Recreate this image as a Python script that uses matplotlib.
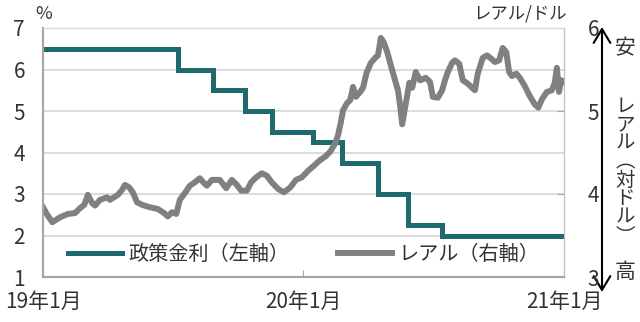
import pandas as pd
import matplotlib
matplotlib.use("Agg")
import matplotlib.pyplot as plt

plt.rcParams['font.family'] = ['Noto Sans CJK JP', 'DejaVu Sans']

start = pd.Timestamp('2019-01-01')

# 政策金利: 変更日 (2019-01-01 からの日数) と水準 (%)
rate_day = [0, 189, 238, 283, 321, 379, 420, 470, 512, 560, 731]
rate_val = [6.5, 6.0, 5.5, 5.0, 4.5, 4.25, 3.75, 3.0, 2.25, 2.0, 2.0]

# レアル/ドル (2019-01-01 からの日数, 値) 画像から読み取り
brl_day = [0, 6, 13, 24, 35, 45, 52, 58, 63, 69, 73, 80, 90, 94, 105, 111, 115,
           121, 126, 132, 139, 150, 161, 170, 175, 181, 187, 192, 199, 206, 213,
           220, 226, 230, 237, 248, 257, 265, 272, 278, 286, 292, 299, 307, 314,
           321, 330, 338, 347, 355, 363, 372, 380, 389, 396, 403, 410, 414, 418,
           421, 427, 431, 435, 439, 445, 449, 454, 460, 466, 470, 474, 478, 483,
           488, 494, 498, 501, 504, 507, 511, 514, 518, 523, 529, 537, 543, 547,
           554, 560, 564, 568, 574, 578, 584, 589, 596, 602, 606, 610, 617, 623,
           629, 634, 640, 645, 650, 654, 658, 664, 669, 676, 683, 690, 695, 700,
           707, 714, 718, 721, 724, 727, 731]
brl_val = [3.84, 3.75, 3.66, 3.72, 3.76, 3.77, 3.83, 3.87, 3.99, 3.89, 3.86,
           3.93, 3.96, 3.93, 3.99, 4.05, 4.11, 4.08, 4.02, 3.90, 3.87, 3.84,
           3.82, 3.77, 3.73, 3.78, 3.76, 3.93, 4.01, 4.10, 4.14, 4.19, 4.13,
           4.10, 4.17, 4.17, 4.07, 4.17, 4.11, 4.04, 4.04, 4.14, 4.20, 4.25,
           4.22, 4.14, 4.06, 4.02, 4.08, 4.17, 4.20, 4.28, 4.34, 4.41, 4.45,
           4.51, 4.61, 4.71, 4.87, 5.01, 5.10, 5.13, 5.29, 5.17, 5.23, 5.28,
           5.46, 5.58, 5.64, 5.67, 5.88, 5.83, 5.71, 5.55, 5.37, 5.25, 5.07,
           4.84, 4.99, 5.19, 5.34, 5.28, 5.47, 5.37, 5.40, 5.35, 5.17, 5.16,
           5.25, 5.37, 5.47, 5.58, 5.61, 5.57, 5.37, 5.33, 5.28, 5.25, 5.45,
           5.64, 5.67, 5.63, 5.59, 5.61, 5.76, 5.71, 5.47, 5.42, 5.45, 5.40,
           5.30, 5.18, 5.08, 5.04, 5.14, 5.23, 5.25, 5.34, 5.52, 5.23, 5.37,
           5.35]

x_ticks = ['2019-01-01', '2020-01-01', '2021-01-01']
x_labels = ['19年1月', '20年1月', '21年1月']

rate_dates = start + pd.to_timedelta(rate_day, unit='D')
brl_dates = start + pd.to_timedelta(brl_day, unit='D')

teal = '#1e6a6e'
gray = '#808080'
txt = '#333333'

fig = plt.figure(figsize=(6.4, 3.22), dpi=100)
ax = fig.add_axes([43 / 640, 45 / 322, 521 / 640, 249 / 322])
ax2 = ax.twinx()

l1, = ax.plot(rate_dates, rate_val, drawstyle='steps-post', color=teal, lw=3.6,
              solid_joinstyle='miter')
l2, = ax2.plot(brl_dates, brl_val, color=gray, lw=4.3, solid_joinstyle='round')

ax.set_xlim(pd.Timestamp(x_ticks[0]), pd.Timestamp(x_ticks[-1]))
ax.set_ylim(1, 7)
ax2.set_ylim(3, 6)
ax.set_yticks(range(1, 8))
ax2.set_yticks(range(3, 7))
ax.set_xticks(pd.to_datetime(x_ticks))
ax.set_xticklabels(x_labels)

ax.yaxis.grid(True, color='#d9d9d9', lw=1.3)
ax.set_axisbelow(True)

ax.tick_params(axis='y', length=0, pad=13, labelsize=15, labelcolor=txt)
ax.tick_params(axis='x', direction='in', length=5, color='#a6a6a6', pad=10,
               labelsize=15, labelcolor=txt)
ax2.tick_params(axis='y', direction='in', length=5, color='#a6a6a6', pad=17,
                labelsize=15, labelcolor=txt)

for a in (ax, ax2):
    a.spines['left'].set_color('#a6a6a6')
    a.spines['bottom'].set_color('#a6a6a6')
    a.spines['top'].set_color('#d9d9d9')
    a.spines['right'].set_color('#bfbfbf')
    a.spines['left'].set_linewidth(1.5)
    a.spines['bottom'].set_linewidth(1.5)

ax2.legend([l1, l2], ['政策金利（左軸）', 'レアル（右軸）'], loc='center',
           bbox_to_anchor=(0.5, 0.092), ncol=2, frameon=False, fontsize=14.5,
           handlelength=2.7, handletextpad=0.3, columnspacing=2.4,
           labelcolor=txt)

# 単位
fig.text(44 / 640, 1 - 14 / 322, '%', ha='center', va='center', fontsize=13, color=txt)
fig.text(567 / 640, 1 - 13 / 322, 'レアル/ドル', ha='right', va='center',
         fontsize=12.5, color=txt)

# 右側の矢印と注記
ax.annotate('', xy=(602, 322 - 27), xytext=(602, 322 - 292), xycoords='figure pixels',
            textcoords='figure pixels', annotation_clip=False,
            arrowprops=dict(arrowstyle='<->,head_length=0.5,head_width=0.3',
                            lw=1.5, color='black', shrinkA=0, shrinkB=0,
                            mutation_scale=20))
fig.text(625 / 640, 1 - 48 / 322, '安', ha='center', va='center', fontsize=15, color=txt)
fig.text(625 / 640, 1 - 272 / 322, '高', ha='center', va='center', fontsize=15, color=txt)
fig.text(625 / 640, 1 - 171 / 322, '\n'.join('レアル︵対ドル︶'), ha='center',
         va='center', fontsize=14, linespacing=0.85, color=txt)

fig.savefig('out.png', dpi=100)
